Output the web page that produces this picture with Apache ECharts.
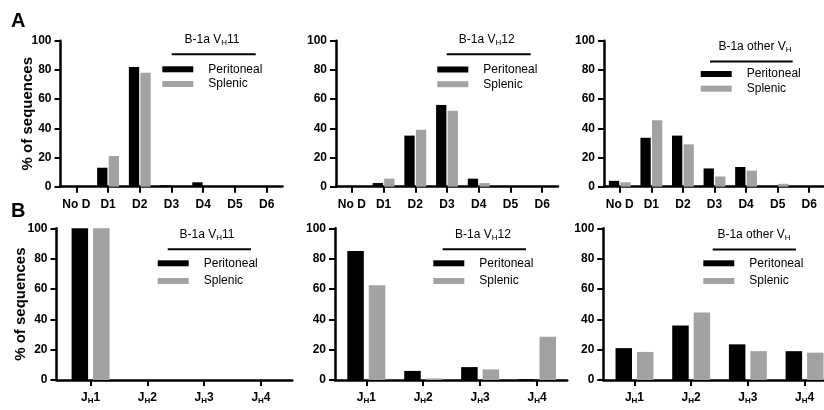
<!DOCTYPE html>
<html>
<head>
<meta charset="utf-8">
<script src="https://cdn.jsdelivr.net/npm/echarts@6/dist/echarts.min.js"></script>
<style>html,body{margin:0;padding:0;background:#fff}#c{width:824px;height:410px}</style>
</head>
<body>
<div id="c"></div>
<script>
// ---- data ----
const dCategories = ['No D', 'D1', 'D2', 'D3', 'D4', 'D5', 'D6'];
const jCategories = ['JH1', 'JH2', 'JH3', 'JH4'];
const yTicks = [0, 20, 40, 60, 80, 100];
const seriesNames = ['Peritoneal', 'Splenic'];

const vh11D_peritoneal = [0, 13, 82, 1, 3, 0, 0];
const vh11D_splenic    = [0, 21, 78, 0, 0, 0, 0];
const vh12D_peritoneal = [0, 2.5, 35, 56, 5.5, 0, 0];
const vh12D_splenic    = [0, 5.5, 39, 52, 2.5, 0, 0];
const otherD_peritoneal = [4, 33.5, 35, 12.5, 13.5, 0.5, 0];
const otherD_splenic    = [3, 45.5, 29, 7, 11, 2, 0];

const vh11J_peritoneal = [100, 0, 0, 0];
const vh11J_splenic    = [100, 0, 0, 0];
const vh12J_peritoneal = [85, 6, 8.5, 0.5];
const vh12J_splenic    = [62.5, 1, 7, 28.5];
const otherJ_peritoneal = [21, 36, 23.5, 19];
const otherJ_splenic    = [18.5, 44.5, 19, 18];

const panelTitles = [
  ['B-1a V', 'H', '11'],
  ['B-1a V', 'H', '12'],
  ['B-1a other V', 'H', '']
];

// ---- styling ----
const FONT = '"Liberation Sans", Arial, Helvetica, sans-serif';
const BLACK = '#000000';
const GRAY = '#a2a2a2';

const gridsA = [
  {left: 60.5, top: 40.7, width: 222, height: 146},
  {left: 336, top: 40.7, width: 222, height: 146},
  {left: 604, top: 40.7, width: 221, height: 146}
];
const gridsB = [
  {left: 56.5, top: 228.3, width: 235.7, height: 151.7, min: -0.6, max: 3.55},
  {left: 335, top: 228.3, width: 232.2, height: 151.7, min: -0.55, max: 3.53},
  {left: 603.3, top: 228.3, width: 235.3, height: 151.7, min: -0.55, max: 3.6}
];

const axisLineStyle = {lineStyle: {color: '#000', width: 2.5}};
const tickStyle = {show: true, length: 6, lineStyle: {color: '#000', width: 2}};
const labelBold = {color: '#000', fontSize: 12, fontWeight: 'bold', fontFamily: FONT};

const subRich = {
  m: {fontSize: 12, fontWeight: 'bold', fontFamily: FONT, color: '#000', lineHeight: 14},
  s: {fontSize: 8, fontWeight: 'bold', fontFamily: FONT, color: '#000', lineHeight: 8, verticalAlign: 'bottom'}
};
const titleRich = {
  a: {fontSize: 12, fontWeight: 'normal', fontFamily: FONT, color: '#000', lineHeight: 14},
  s: {fontSize: 8, fontWeight: 'normal', fontFamily: FONT, color: '#000', lineHeight: 8, verticalAlign: 'bottom'}
};

const grid = [];
const xAxis = [];
const yAxis = [];
const series = [];

function makeY(idx, withName, nameGap) {
  return {
    type: 'value', gridIndex: idx, min: 0, max: 100, interval: 20,
    axisLine: Object.assign({show: true, onZero: false}, axisLineStyle),
    axisTick: tickStyle,
    splitLine: {show: false},
    axisLabel: Object.assign({margin: 9}, labelBold),
    name: withName ? '% of sequences' : '',
    nameLocation: 'middle', nameGap: nameGap, nameRotate: 90,
    nameMoveOverlap: false,
    nameTextStyle: {color: '#000', fontSize: 15, fontWeight: 'bold', fontFamily: FONT}
  };
}

const dData = [
  [vh11D_peritoneal, vh11D_splenic],
  [vh12D_peritoneal, vh12D_splenic],
  [otherD_peritoneal, otherD_splenic]
];
const jData = [
  [vh11J_peritoneal, vh11J_splenic],
  [vh12J_peritoneal, vh12J_splenic],
  [otherJ_peritoneal, otherJ_splenic]
];

gridsA.forEach((g, i) => {
  grid.push({left: g.left, top: g.top, width: g.width, height: g.height, outerBoundsMode: 'none', containLabel: false});
  xAxis.push({
    type: 'category', gridIndex: i, data: dCategories, boundaryGap: true,
    axisLine: Object.assign({show: true, onZero: false}, axisLineStyle),
    axisTick: Object.assign({alignWithLabel: true}, tickStyle),
    axisLabel: Object.assign({margin: 12, interval: 0}, labelBold),
    splitLine: {show: false}
  });
  yAxis.push(makeY(i, i === 0, 25));
  [0, 1].forEach(k => {
    series.push({
      type: 'bar', name: seriesNames[k], xAxisIndex: i, yAxisIndex: i,
      data: dData[i][k], barWidth: 10.3, barGap: '12%',
      itemStyle: {color: k === 0 ? BLACK : GRAY},
      emphasis: {disabled: true}, silent: true
    });
  });
});

gridsB.forEach((g, j) => {
  const i = j + 3;
  grid.push({left: g.left, top: g.top, width: g.width, height: g.height, outerBoundsMode: 'none', containLabel: false});
  const idxs = jCategories.map((_, n) => n);
  xAxis.push({
    type: 'value', gridIndex: i, min: g.min, max: g.max,
    axisLine: Object.assign({show: true, onZero: false}, axisLineStyle),
    axisTick: Object.assign({customValues: idxs}, tickStyle),
    axisLabel: {
      margin: 11, customValues: idxs, rich: subRich,
      formatter: v => {
        const lab = jCategories[Math.round(v)];
        if (!lab) return '';
        return '{m|' + lab[0] + '}{s|' + lab[1] + '}{m|' + lab.slice(2) + '}';
      }
    },
    splitLine: {show: false}
  });
  yAxis.push(makeY(i, j === 0, 28));
  [0, 1].forEach(k => {
    series.push({
      type: 'bar', name: seriesNames[k], xAxisIndex: i, yAxisIndex: i,
      data: jData[j][k].map((v, n) => [n, v]), barWidth: 16.5, barGap: '30%',
      itemStyle: {color: k === 0 ? BLACK : GRAY},
      emphasis: {disabled: true}, silent: true
    });
  });
});

// titles above legends (x center, top)
const titlePos = [
  [212, 33], [486.7, 33], [755, 40],
  [207, 228], [483, 228], [754, 228]
];
const linePos = [
  [171.7, 255.7, 54.3], [446.7, 530.7, 54.3], [710, 792.7, 61.5],
  [167.7, 251, 249.3], [442.7, 526, 249.3], [712.7, 796, 249.5]
];
const legendPos = [
  [162.3, 62.3, 0.7], [437.3, 62.5, 0.7], [700.7, 67, 0.7],
  [157.7, 256.3, 3.7], [433.3, 256.3, 3.7], [703.3, 256.3, 3.7]
];

const title = [
  {text: 'A', left: 11, top: 11, padding: 0, textStyle: {fontSize: 20, fontWeight: 'bold', fontFamily: FONT, color: '#000'}},
  {text: 'B', left: 11, top: 201, padding: 0, textStyle: {fontSize: 20, fontWeight: 'bold', fontFamily: FONT, color: '#000'}}
];
titlePos.forEach((p, n) => {
  const t = panelTitles[n % 3];
  title.push({
    text: '{a|' + t[0] + '}{s|' + t[1] + '}' + (t[2] ? '{a|' + t[2] + '}' : ''),
    left: p[0], top: p[1], textAlign: 'center', padding: 0,
    textStyle: {fontWeight: 'normal', rich: titleRich}
  });
});

const legend = legendPos.map(p => ({
  left: p[0], top: p[1], orient: 'vertical', padding: 0,
  itemWidth: 31, itemHeight: 6, itemGap: p[2], icon: 'rect',
  selectedMode: false, data: seriesNames,
  textStyle: {fontSize: 12, fontFamily: FONT, color: '#000', lineHeight: 14, padding: [0, 0, 0, 10]}
}));

const graphic = linePos.map(l => ({
  type: 'line', silent: true,
  shape: {x1: l[0], y1: l[2], x2: l[1], y2: l[2]},
  style: {stroke: '#000', lineWidth: 2}
}));

const chart = echarts.init(document.getElementById('c'), null, {renderer: 'canvas'});
chart.setOption({
  animation: false,
  backgroundColor: '#fff',
  title, legend, grid, xAxis, yAxis, series, graphic,
  tooltip: {show: false}
});
</script>
</body>
</html>
